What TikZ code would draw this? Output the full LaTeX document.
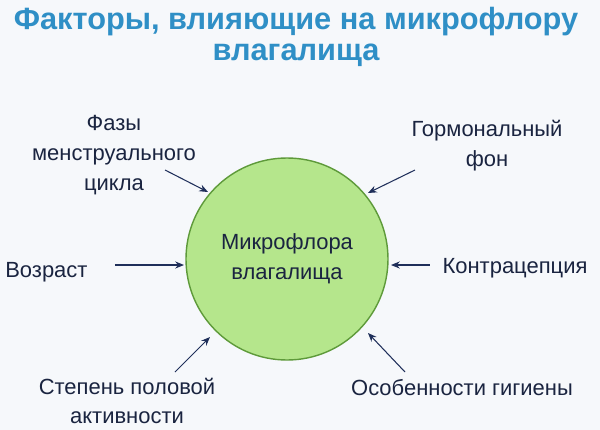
\documentclass[tikz,border=0pt]{standalone}
\usepackage{fontspec}
\setmainfont{Liberation Sans}
\usetikzlibrary{arrows.meta}
\definecolor{ttl}{HTML}{2F8FC6}
\definecolor{circfill}{HTML}{B5E68C}
\definecolor{circline}{HTML}{5E9A3A}
\definecolor{arr}{HTML}{1F2F5A}
\definecolor{txt}{HTML}{1A2440}
\definecolor{bg}{HTML}{F6F8FB}
\begin{document}
\begin{tikzpicture}[x=0.02cm,y=-0.02cm,
  lbl/.style={font=\fontsize{12.5}{17}\selectfont, align=center, inner sep=0pt, text=txt},
  ttlstyle/.style={font=\fontsize{17.5}{19}\selectfont\bfseries, text=ttl, inner sep=0pt},
  con/.style={draw=arr, line width=0.6pt, -{Stealth[length=5pt,width=4pt]}}]
\fill[bg] (0,0) rectangle (600,430);
\useasboundingbox (0,0) rectangle (600,430);
\node[ttlstyle] (t1) at (296,22) {Факторы, влияющие на микрофлору};
\node[ttlstyle] (t2) at (296,55) {влагалища};
\node[circle, draw=circline, line width=0.8pt, fill=circfill, minimum size=202*0.02cm, lbl] (c) at (287,259) {Микрофлора\\влагалища};
\node[lbl] (a) at (114,155) {Фазы\\менструального\\цикла};
\node[lbl] (b) at (487,146) {Гормональный\\фон};
\node[lbl, anchor=west] (d) at (5,272) {Возраст};
\node[lbl] (e) at (515,268) {Контрацепция};
\node[lbl] (f) at (127,401) {Степень половой\\активности};
\node[lbl] (g) at (462,388) {Особенности гигиены};
\coordinate (a1) at (165,170); \coordinate (a2) at (208,192);
\coordinate (b1) at (415,170); \coordinate (b2) at (368,193);
\coordinate (d1) at (115,265); \coordinate (d2) at (184,265);
\coordinate (e1) at (430,265); \coordinate (e2) at (391,265);
\coordinate (f1) at (175,372); \coordinate (f2) at (210,337);
\coordinate (g1) at (405,372); \coordinate (g2) at (368,333);
\draw[con] (a1) -- (a2);
\draw[con] (b1) -- (b2);
\draw[con] (d1) -- (d2);
\draw[con] (e1) -- (e2);
\draw[con] (f1) -- (f2);
\draw[con] (g1) -- (g2);
\end{tikzpicture}
\end{document}
